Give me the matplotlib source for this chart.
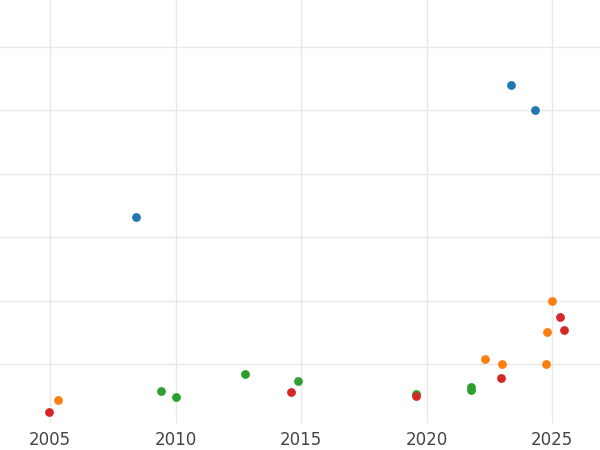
import matplotlib.pyplot as plt

blue_x = [2008.43, 2023.37, 2024.32]
blue_y = [3.32, 5.40, 5.00]
orange_x = [2005.32, 2022.33, 2023.0, 2024.8, 2025.0, 2024.76]
orange_y = [0.43, 1.08, 1.00, 1.50, 2.00, 1.00]
green_x = [2009.42, 2010.02, 2012.77, 2014.88, 2019.58, 2021.77, 2021.77]
green_y = [0.57, 0.48, 0.84, 0.73, 0.53, 0.64, 0.59]
red_x = [2004.96, 2014.6, 2019.58, 2022.97, 2025.32, 2025.48]
red_y = [0.24, 0.56, 0.50, 0.78, 1.74, 1.54]

fig = plt.figure(figsize=(6, 4.5), dpi=100)
ax = fig.add_axes([0, 0.06, 1, 0.94])
for xs, ys, c in [(blue_x, blue_y, '#1f77b4'), (orange_x, orange_y, '#ff7f0e'),
                  (green_x, green_y, '#2ca02c'), (red_x, red_y, '#d62728')]:
    ax.scatter(xs, ys, s=40, color=c, zorder=3, linewidths=0)

ax.set_xlim(2003.0, 2026.9)
ax.set_ylim(0.07, 6.74)
ax.set_xticks([2005, 2010, 2015, 2020, 2025])
ax.set_yticks([1, 2, 3, 4, 5, 6])
ax.tick_params(axis='y', left=False, labelleft=False)
ax.tick_params(axis='x', length=0, labelsize=12, labelcolor='#444444', pad=6)
ax.grid(True, color='#e8e8e8', linewidth=1)
for s in ax.spines.values():
    s.set_visible(False)
fig.savefig('out.png')
